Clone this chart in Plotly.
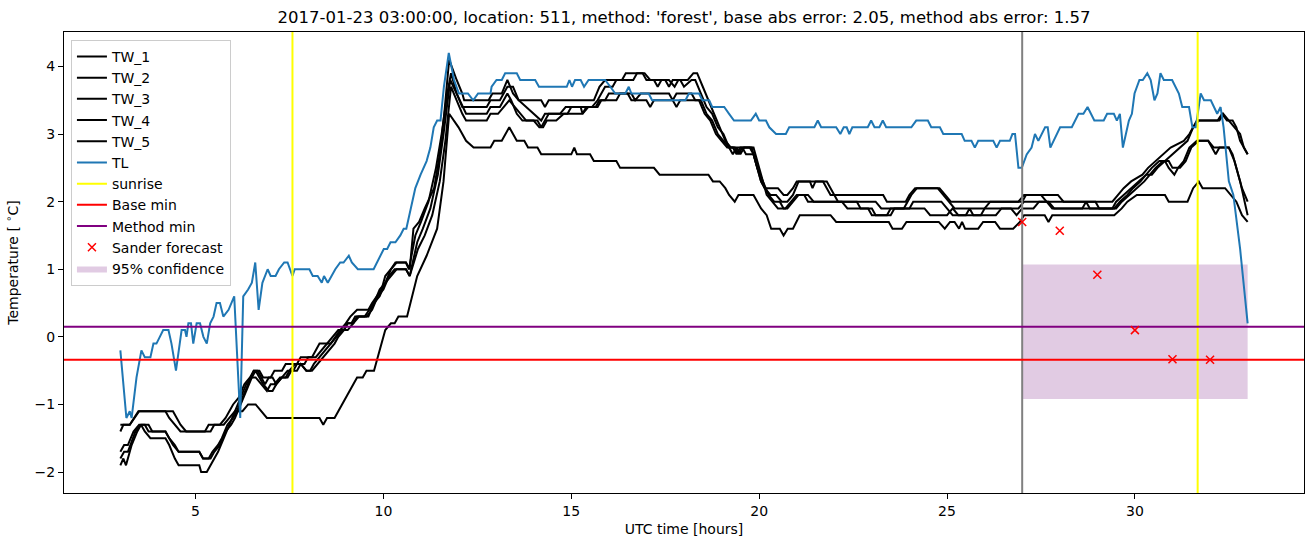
import plotly.graph_objects as go

TITLE = "2017-01-23 03:00:00, location: 511, method: 'forest', base abs error: 2.05, method abs error: 1.57"
X_RANGE = [1.5, 34.5]
Y_RANGE = [-2.31, 4.51]
X_TICKS = [5, 10, 15, 20, 25, 30]
Y_TICKS = [-2, -1, 0, 1, 2, 3, 4]
SUNRISE = [7.58, 31.67]
NOW_T = 27.0
BASE_MIN = -0.34
METHOD_MIN = 0.15
FC_T = [27, 28, 29, 30, 31, 32]
FC_V = [1.70, 1.57, 0.92, 0.10, -0.33, -0.34]
CONF_T = [27.0, 33.0]
CONF_LO = -0.92
CONF_HI = 1.07

TW_1 = [(3.0,-1.3),(3.25,-1.3),(3.48,-1.1),(4.2,-1.1),(4.3,-1.2),(4.45,-1.3),(4.6,-1.4),(5.25,-1.4),(5.35,-1.3),(5.65,-1.3),(5.8,-1.2),(5.9,-1.1),(6.0,-1.0),(6.15,-0.9),(6.3,-0.7),(6.45,-0.6),(6.55,-0.5),(6.7,-0.5),(6.8,-0.6),(7.0,-0.6),(7.1,-0.5),(7.3,-0.5),(7.4,-0.4),(7.7,-0.4),(7.8,-0.3),(8.1,-0.3),(8.2,-0.2),(8.3,-0.1),(8.6,-0.1),(8.72,0.0),(8.85,0.1),(9.0,0.2),(9.12,0.3),(9.3,0.4),(9.6,0.4),(9.7,0.5),(9.83,0.6),(9.95,0.7),(10.05,0.9),(10.2,1.0),(10.32,1.1),(10.6,1.1),(10.7,1.0),(10.8,1.6),(10.95,1.7),(11.1,1.9),(11.35,2.2),(11.5,2.7),(11.62,3.3),(11.75,4.1),(11.95,3.8),(12.1,3.6),(12.15,3.5),(12.8,3.5),(12.9,3.6),(13.15,3.6),(13.3,3.8),(13.45,3.6),(13.6,3.5),(14.2,3.5),(14.3,3.4),(14.4,3.5),(15.6,3.5),(15.75,3.7),(15.9,3.8),(16.35,3.8),(16.45,3.9),(16.9,3.9),(17.0,3.8),(17.2,3.8),(17.3,3.7),(17.4,3.8),(17.6,3.8),(17.75,3.7),(17.85,3.8),(18.1,3.8),(18.25,3.9),(18.35,3.9),(18.5,3.7),(18.65,3.5),(18.8,3.3),(18.95,3.1),(19.1,2.9),(19.25,2.8),(19.75,2.8),(19.85,2.7),(19.95,2.5),(20.05,2.3),(20.15,2.2),(20.5,2.2),(20.65,2.1),(20.75,2.1),(20.9,2.2),(21.0,2.3),(21.7,2.3),(21.8,2.2),(21.9,2.1),(23.3,2.1),(23.4,2.0),(23.9,2.0),(24.0,2.1),(24.15,2.2),(24.8,2.2),(24.95,2.1),(25.1,2.0),(26.9,2.0),(27.05,2.1),(27.95,2.1),(28.1,2.0),(29.4,2.0),(29.55,2.1),(29.7,2.2),(29.9,2.3),(30.2,2.4),(30.35,2.5),(30.55,2.6),(30.75,2.7),(30.95,2.8),(31.3,2.9),(31.45,3.0),(31.55,3.1),(31.65,3.2),(32.2,3.2),(32.32,3.3),(32.45,3.2),(32.6,3.2),(32.7,3.1),(32.8,2.9),(32.9,2.8),(33.0,2.7)]

TW_2 = [(3.0,-1.7),(3.1,-1.6),(3.2,-1.6),(3.35,-1.4),(3.5,-1.3),(3.75,-1.3),(3.85,-1.4),(4.2,-1.4),(4.3,-1.5),(4.4,-1.6),(4.55,-1.7),(5.1,-1.7),(5.2,-1.8),(5.35,-1.8),(5.45,-1.7),(5.6,-1.6),(5.7,-1.5),(5.85,-1.3),(6.0,-1.2),(6.1,-1.1),(6.25,-0.9),(6.4,-0.7),(6.55,-0.5),(6.65,-0.5),(6.75,-0.6),(6.85,-0.7),(6.95,-0.6),(7.05,-0.6),(7.15,-0.7),(7.3,-0.6),(7.45,-0.5),(7.6,-0.5),(7.7,-0.4),(7.9,-0.4),(8.0,-0.3),(8.2,-0.3),(8.35,-0.2),(8.5,-0.1),(8.65,0.0),(8.8,0.1),(8.95,0.1),(9.05,0.2),(9.15,0.2),(9.25,0.3),(9.5,0.3),(9.62,0.4),(9.75,0.5),(9.9,0.7),(10.05,0.8),(10.2,1.0),(10.35,1.1),(10.6,1.1),(10.68,1.0),(10.85,1.5),(11.0,1.7),(11.2,2.0),(11.4,2.5),(11.55,3.0),(11.7,3.6),(11.8,3.9),(11.95,3.6),(12.1,3.4),(12.75,3.4),(12.85,3.5),(13.1,3.5),(13.3,3.7),(13.45,3.7),(13.6,3.5),(13.8,3.4),(14.0,3.3),(14.2,3.2),(14.3,3.3),(14.7,3.3),(14.85,3.4),(15.55,3.4),(15.7,3.5),(15.8,3.6),(15.9,3.7),(16.1,3.7),(16.2,3.8),(16.65,3.8),(16.75,3.9),(16.95,3.9),(17.1,3.8),(17.5,3.8),(17.6,3.7),(17.7,3.8),(17.9,3.8),(18.0,3.7),(18.2,3.8),(18.3,3.8),(18.45,3.6),(18.6,3.4),(18.75,3.3),(18.9,3.1),(19.05,3.0),(19.2,2.8),(19.3,2.7),(19.4,2.8),(19.5,2.7),(19.6,2.8),(19.8,2.8),(19.9,2.6),(20.05,2.3),(20.15,2.2),(20.3,2.1),(20.45,2.1),(20.6,2.0),(20.75,2.0),(20.9,2.1),(21.05,2.3),(21.35,2.3),(21.42,2.2),(21.5,2.3),(21.8,2.3),(21.9,2.2),(22.0,2.1),(22.1,2.0),(23.1,2.0),(23.25,1.9),(23.85,1.9),(23.95,2.0),(24.05,2.1),(24.2,2.2),(24.75,2.2),(24.9,2.1),(25.05,2.0),(25.2,1.9),(26.0,1.9),(26.15,2.0),(27.0,2.0),(27.1,2.1),(27.5,2.1),(27.65,2.0),(28.95,2.0),(29.05,1.9),(29.45,1.9),(29.6,2.0),(29.8,2.1),(29.95,2.2),(30.15,2.3),(30.3,2.4),(30.45,2.5),(30.65,2.6),(30.8,2.6),(30.9,2.5),(31.05,2.4),(31.15,2.5),(31.3,2.6),(31.45,2.8),(31.65,2.9),(31.95,2.9),(32.05,2.8),(32.15,2.7),(32.25,2.8),(32.5,2.8),(32.6,2.7),(32.7,2.5),(32.85,2.2),(33.0,2.0)]

TW_3 = [(3.0,-1.8),(3.1,-1.7),(3.2,-1.7),(3.4,-1.4),(3.55,-1.3),(3.65,-1.3),(3.75,-1.4),(4.2,-1.4),(4.3,-1.5),(4.45,-1.6),(4.55,-1.7),(5.1,-1.7),(5.2,-1.8),(5.4,-1.8),(5.5,-1.7),(5.65,-1.6),(5.8,-1.4),(5.95,-1.3),(6.05,-1.2),(6.2,-1.0),(6.35,-0.8),(6.5,-0.6),(6.6,-0.6),(6.75,-0.7),(6.9,-0.8),(7.0,-0.7),(7.1,-0.7),(7.25,-0.6),(7.4,-0.6),(7.5,-0.5),(7.65,-0.4),(7.8,-0.4),(7.95,-0.5),(8.1,-0.5),(8.25,-0.4),(8.4,-0.3),(8.55,-0.2),(8.7,-0.1),(8.8,0.0),(8.95,0.1),(9.05,0.2),(9.2,0.2),(9.3,0.3),(9.55,0.3),(9.7,0.4),(9.85,0.6),(10.0,0.7),(10.15,0.9),(10.3,1.0),(10.6,1.0),(10.7,0.9),(10.9,1.4),(11.05,1.6),(11.25,1.9),(11.45,2.4),(11.6,3.0),(11.78,3.8),(11.95,3.6),(12.1,3.4),(12.2,3.3),(12.75,3.3),(12.85,3.4),(13.1,3.4),(13.3,3.6),(13.4,3.5),(13.55,3.3),(13.7,3.2),(14.1,3.2),(14.2,3.1),(14.3,3.2),(14.4,3.3),(14.9,3.3),(15.0,3.4),(15.25,3.4),(15.3,3.3),(15.4,3.4),(15.65,3.4),(15.75,3.5),(15.9,3.5),(16.0,3.6),(16.6,3.6),(16.7,3.5),(16.85,3.6),(17.6,3.6),(17.7,3.5),(17.8,3.6),(18.2,3.6),(18.3,3.5),(18.45,3.5),(18.6,3.3),(18.75,3.2),(18.9,3.0),(19.05,2.9),(19.2,2.8),(19.35,2.8),(19.45,2.7),(19.55,2.8),(19.65,2.7),(19.85,2.7),(19.95,2.5),(20.1,2.3),(20.2,2.1),(20.35,2.0),(20.5,1.9),(20.7,1.9),(20.85,2.0),(21.0,2.1),(21.3,2.1),(21.45,2.0),(22.2,2.0),(22.35,1.9),(23.0,1.9),(23.1,1.8),(23.5,1.8),(23.6,1.9),(24.0,1.9),(24.1,2.0),(24.85,2.0),(25.0,1.9),(25.15,1.8),(25.5,1.8),(25.6,1.9),(25.7,1.8),(26.3,1.8),(26.45,1.9),(26.9,1.9),(27.05,2.0),(27.65,2.0),(27.8,1.9),(28.6,1.9),(28.7,2.0),(28.8,1.9),(29.5,1.9),(29.65,2.0),(29.85,2.1),(30.05,2.2),(30.25,2.3),(30.4,2.4),(30.55,2.5),(30.75,2.6),(30.9,2.6),(31.0,2.5),(31.2,2.5),(31.35,2.6),(31.5,2.8),(31.7,2.9),(31.95,2.9),(32.1,2.8),(32.5,2.8),(32.65,2.6),(32.8,2.3),(33.0,1.8)]

TW_4 = [(3.0,-1.9),(3.08,-1.8),(3.15,-1.9),(3.3,-1.6),(3.45,-1.4),(3.55,-1.3),(3.65,-1.4),(3.8,-1.5),(4.2,-1.5),(4.3,-1.6),(4.45,-1.8),(4.55,-1.9),(5.1,-1.9),(5.15,-2.0),(5.3,-2.0),(5.4,-1.9),(5.5,-1.8),(5.6,-1.7),(5.75,-1.5),(5.9,-1.3),(6.05,-1.1),(6.2,-0.9),(6.35,-0.7),(6.5,-0.6),(6.6,-0.5),(6.7,-0.6),(6.8,-0.7),(6.95,-0.8),(7.05,-0.8),(7.15,-0.7),(7.3,-0.6),(7.45,-0.6),(7.55,-0.5),(7.7,-0.5),(7.8,-0.4),(7.95,-0.5),(8.05,-0.5),(8.15,-0.4),(8.3,-0.3),(8.45,-0.2),(8.6,-0.1),(8.75,0.0),(8.9,0.1),(9.05,0.1),(9.2,0.2),(9.35,0.3),(9.6,0.3),(9.75,0.5),(9.9,0.6),(10.05,0.8),(10.2,0.9),(10.35,1.0),(10.6,1.0),(10.7,0.9),(10.92,1.3),(11.1,1.5),(11.3,1.8),(11.5,2.3),(11.65,2.9),(11.8,3.7),(11.95,3.5),(12.1,3.3),(12.2,3.2),(12.75,3.2),(12.85,3.3),(13.05,3.3),(13.2,3.4),(13.35,3.5),(13.5,3.4),(13.65,3.3),(13.8,3.2),(14.0,3.2),(14.15,3.1),(14.25,3.1),(14.35,3.2),(14.6,3.2),(14.8,3.3),(15.3,3.3),(15.45,3.4),(15.7,3.4),(15.8,3.5),(16.2,3.5),(16.3,3.6),(16.5,3.6),(16.6,3.5),(17.0,3.5),(17.1,3.4),(17.2,3.5),(17.7,3.5),(17.8,3.4),(17.9,3.5),(18.4,3.5),(18.55,3.3),(18.7,3.2),(18.85,3.0),(19.0,2.9),(19.15,2.8),(19.3,2.8),(19.4,2.7),(19.5,2.8),(19.85,2.8),(19.95,2.6),(20.1,2.3),(20.25,2.1),(20.4,2.0),(20.55,2.0),(20.65,1.9),(20.75,1.9),(20.9,2.0),(21.05,2.1),(21.2,2.1),(21.3,2.0),(22.6,2.0),(22.7,1.9),(22.9,1.9),(23.0,1.8),(23.4,1.8),(23.5,1.9),(24.4,1.9),(24.55,1.8),(25.0,1.8),(25.15,1.9),(25.3,1.8),(25.9,1.8),(26.0,1.9),(26.7,1.9),(26.85,1.8),(27.0,1.9),(27.3,1.9),(27.45,2.0),(27.7,2.0),(27.85,1.9),(29.4,1.9),(29.5,2.0),(29.7,2.1),(29.9,2.2),(30.1,2.3),(30.3,2.4),(30.45,2.4),(30.6,2.5),(30.8,2.6),(31.0,2.7),(31.2,2.8),(31.4,2.9),(31.55,3.1),(31.7,3.2),(32.25,3.2),(32.35,3.3),(32.5,3.2),(32.65,3.1),(32.8,3.0),(32.9,2.8),(33.0,2.7)]

TW_5 = [(3.0,-1.4),(3.08,-1.3),(3.25,-1.3),(3.5,-1.1),(4.4,-1.1),(4.5,-1.2),(4.6,-1.3),(4.75,-1.4),(5.4,-1.4),(5.5,-1.3),(5.75,-1.3),(5.9,-1.2),(6.05,-1.1),(6.25,-1.1),(6.4,-1.0),(6.6,-1.0),(6.75,-1.1),(6.9,-1.2),(8.3,-1.2),(8.4,-1.3),(8.5,-1.2),(8.7,-1.2),(8.9,-1.0),(9.1,-0.8),(9.2,-0.7),(9.3,-0.6),(9.45,-0.6),(9.55,-0.5),(9.75,-0.5),(9.85,-0.3),(9.95,-0.1),(10.05,0.1),(10.2,0.2),(10.3,0.2),(10.4,0.3),(10.63,0.3),(10.9,0.9),(11.15,1.2),(11.43,1.6),(11.6,2.3),(11.75,3.3),(12.0,3.1),(12.2,2.9),(12.4,2.8),(12.85,2.8),(12.95,2.9),(13.15,2.9),(13.25,3.0),(13.35,3.1),(13.45,3.0),(13.55,2.9),(13.75,2.9),(13.85,2.8),(14.1,2.8),(14.2,2.7),(15.0,2.7),(15.08,2.8),(15.15,2.7),(15.5,2.7),(15.6,2.6),(16.2,2.6),(16.3,2.5),(17.2,2.5),(17.35,2.4),(18.65,2.4),(18.77,2.3),(18.95,2.3),(19.1,2.2),(19.2,2.1),(19.35,2.0),(19.45,2.1),(19.85,2.1),(19.96,2.0),(20.05,1.9),(20.2,1.8),(20.32,1.6),(20.55,1.6),(20.65,1.5),(20.76,1.6),(20.9,1.6),(21.08,1.8),(21.9,1.8),(22.05,1.7),(23.45,1.7),(23.55,1.6),(23.8,1.6),(23.92,1.7),(24.78,1.7),(24.94,1.6),(25.08,1.7),(25.2,1.7),(25.32,1.6),(25.4,1.7),(25.48,1.6),(25.83,1.6),(25.96,1.7),(26.28,1.7),(26.41,1.6),(26.76,1.6),(26.94,1.7),(27.05,1.8),(27.6,1.8),(27.7,1.7),(27.8,1.8),(29.45,1.8),(29.65,1.9),(29.8,2.0),(30.05,2.1),(30.8,2.1),(30.9,2.0),(31.4,2.0),(31.55,2.2),(31.7,2.3),(31.8,2.2),(32.4,2.2),(32.55,2.1),(32.7,2.0),(32.85,1.8),(33.0,1.7)]

TL = [(3.0,-0.2),(3.16,-1.2),(3.25,-1.1),(3.3,-1.2),(3.43,-0.6),(3.56,-0.2),(3.65,-0.3),(3.8,-0.3),(3.88,-0.1),(3.96,-0.1),(4.05,0.0),(4.14,0.1),(4.28,0.1),(4.36,-0.1),(4.48,-0.5),(4.59,-0.1),(4.63,0.1),(4.72,0.1),(4.76,0.0),(4.81,0.2),(4.88,0.2),(4.94,-0.1),(5.03,0.2),(5.12,0.2),(5.21,0.0),(5.3,-0.1),(5.39,0.2),(5.48,0.3),(5.56,0.5),(5.65,0.5),(5.74,0.3),(5.88,0.4),(6.03,0.6),(6.19,-1.2),(6.27,0.6),(6.4,0.7),(6.5,0.8),(6.59,1.1),(6.68,0.4),(6.78,0.8),(6.92,1.0),(7.0,0.9),(7.13,0.9),(7.22,1.0),(7.36,1.1),(7.45,1.1),(7.58,0.9),(7.64,1.0),(8.03,1.0),(8.12,0.9),(8.25,0.9),(8.36,0.8),(8.42,0.9),(8.52,0.8),(8.72,1.0),(8.85,1.1),(8.94,1.1),(9.08,1.2),(9.16,1.1),(9.32,1.0),(9.74,1.0),(10.01,1.3),(10.1,1.3),(10.19,1.4),(10.32,1.4),(10.45,1.5),(10.54,1.6),(10.61,1.6),(10.72,1.9),(10.85,2.2),(10.99,2.4),(11.15,2.6),(11.25,2.8),(11.34,3.1),(11.43,3.2),(11.52,3.2),(11.61,3.7),(11.74,4.2),(11.88,3.8),(12.01,3.6),(12.25,3.6),(12.39,3.5),(12.52,3.6),(12.85,3.6),(12.88,3.7),(13.01,3.8),(13.15,3.8),(13.24,3.9),(13.55,3.9),(13.64,3.8),(14.04,3.8),(14.14,3.7),(14.88,3.7),(14.95,3.8),(15.02,3.7),(15.10,3.8),(15.25,3.8),(15.34,3.7),(15.46,3.8),(15.9,3.8),(16.04,3.7),(16.17,3.6),(16.44,3.6),(16.53,3.7),(16.6,3.6),(17.06,3.6),(17.15,3.5),(18.04,3.5),(18.13,3.6),(18.40,3.6),(18.49,3.5),(18.67,3.5),(18.75,3.4),(19.07,3.4),(19.2,3.3),(19.33,3.2),(19.78,3.2),(19.91,3.3),(20.0,3.2),(20.18,3.2),(20.27,3.1),(20.45,3.0),(20.71,3.0),(20.8,3.1),(21.47,3.1),(21.56,3.2),(21.65,3.1),(22.05,3.1),(22.16,3.0),(22.25,3.1),(22.33,3.1),(22.4,3.0),(22.48,3.1),(22.89,3.1),(22.98,3.2),(23.07,3.1),(23.2,3.1),(23.29,3.2),(23.38,3.1),(24.05,3.1),(24.18,3.2),(24.49,3.2),(24.58,3.1),(24.81,3.1),(24.9,3.0),(25.39,3.0),(25.47,2.9),(25.65,2.9),(25.74,2.8),(25.83,2.9),(26.23,2.9),(26.32,2.8),(26.41,2.9),(26.67,2.9),(26.74,3.0),(26.81,3.0),(26.9,2.5),(26.99,2.5),(27.12,2.7),(27.25,2.8),(27.34,3.0),(27.43,2.9),(27.61,3.1),(27.68,3.1),(27.75,2.8),(28.01,3.1),(28.32,3.1),(28.5,3.3),(28.63,3.3),(28.74,3.4),(28.92,3.2),(29.17,3.2),(29.26,3.3),(29.44,3.3),(29.52,3.2),(29.6,3.3),(29.68,2.8),(29.84,3.2),(29.92,3.3),(29.99,3.6),(30.12,3.8),(30.21,3.8),(30.33,3.9),(30.42,3.8),(30.52,3.5),(30.6,3.6),(30.68,3.9),(30.77,3.8),(30.99,3.8),(31.17,3.6),(31.26,3.4),(31.44,3.4),(31.53,3.1),(31.62,3.1),(31.75,3.6),(31.84,3.5),(32.02,3.5),(32.19,3.3),(32.28,3.4),(32.36,3.1),(32.5,2.3),(32.62,2.1),(32.8,1.3),(33.0,0.2)]

TW_SERIES = [("TW_1", TW_1), ("TW_2", TW_2), ("TW_3", TW_3), ("TW_4", TW_4), ("TW_5", TW_5)]

FONT = "DejaVu Sans"
fig = go.Figure()

# confidence band (drawn first, listed last in legend)
fig.add_trace(go.Scatter(
    x=[CONF_T[0], CONF_T[1], CONF_T[1], CONF_T[0], CONF_T[0]],
    y=[CONF_LO, CONF_LO, CONF_HI, CONF_HI, CONF_LO],
    fill="toself", fillcolor="rgba(225,203,227,1)", line=dict(width=0),
    mode="lines", name="95% confidence", legendrank=2000, legendgroup="conf"))

for name, pts in TW_SERIES:
    fig.add_trace(go.Scatter(x=[p[0] for p in pts], y=[p[1] for p in pts], mode="lines",
                             line=dict(color="black", width=2), name=name, legendgroup=name))

fig.add_trace(go.Scatter(x=[p[0] for p in TL], y=[p[1] for p in TL], mode="lines",
                         line=dict(color="#1f77b4", width=2), name="TL", legendgroup="TL"))

sx, sy = [], []
for s in SUNRISE:
    sx += [s, s, None]
    sy += [Y_RANGE[0], Y_RANGE[1], None]
fig.add_trace(go.Scatter(x=sx, y=sy, mode="lines", line=dict(color="#ffff00", width=2),
                         name="sunrise", legendgroup="sunrise"))

fig.add_trace(go.Scatter(x=[NOW_T, NOW_T], y=Y_RANGE, mode="lines",
                         line=dict(color="gray", width=2), showlegend=False))

fig.add_trace(go.Scatter(x=X_RANGE, y=[BASE_MIN, BASE_MIN], mode="lines",
                         line=dict(color="red", width=2), name="Base min", legendgroup="base"))
fig.add_trace(go.Scatter(x=X_RANGE, y=[METHOD_MIN, METHOD_MIN], mode="lines",
                         line=dict(color="purple", width=2), name="Method min", legendgroup="method"))

fig.add_trace(go.Scatter(x=FC_T, y=FC_V, mode="markers",
                         marker=dict(symbol="x-thin", size=8, line=dict(color="red", width=1.5), color="red"),
                         name="Sander forecast", legendgroup="fc"))

axis_common = dict(showline=True, linecolor="black", linewidth=1, mirror=True,
                   ticks="outside", ticklen=5, tickwidth=1, tickcolor="black",
                   showgrid=False, zeroline=False,
                   tickfont=dict(family=FONT, size=14, color="black"))

fig.update_layout(
    width=1313, height=547,
    margin=dict(l=64, r=9, t=32, b=54),
    paper_bgcolor="white", plot_bgcolor="white",
    font=dict(family=FONT, size=14, color="black"),
    title=dict(text=TITLE, x=0.5, xref="paper", xanchor="center",
               y=1 - 17 / 547, yref="container", yanchor="middle",
               font=dict(family=FONT, size=16.5, color="black")),
    xaxis=dict(range=X_RANGE, tickvals=X_TICKS, title=dict(text="UTC time [hours]", standoff=6,
               font=dict(family=FONT, size=14)), **axis_common),
    yaxis=dict(range=Y_RANGE, tickvals=Y_TICKS, title=dict(text="Temperature [ <sup>∘</sup>C]", standoff=12,
               font=dict(family=FONT, size=14)), **axis_common),
    legend=dict(x=0.0056, y=0.983, xanchor="left", yanchor="top",
                bgcolor="rgba(255,255,255,0.8)", bordercolor="#cccccc", borderwidth=1,
                font=dict(family=FONT, size=14), tracegroupgap=0, itemwidth=30),
    showlegend=True,
)

fig.write_html("out.html")
